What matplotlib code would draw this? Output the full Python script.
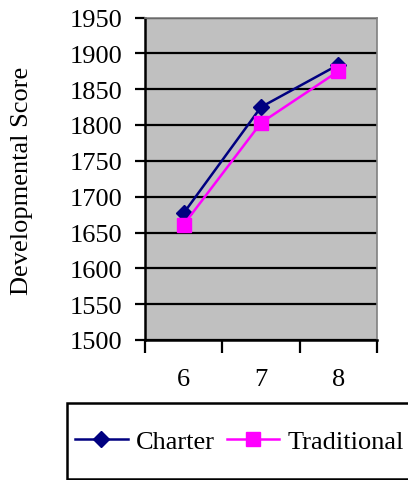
import matplotlib
matplotlib.use("Agg")
import matplotlib.pyplot as plt
from matplotlib.patches import Rectangle

# Developmental scores by grade
grades = ["6", "7", "8"]
charter = [1677, 1825, 1884]
traditional = [1661, 1803, 1875]
y_ticks = list(range(1500, 1951, 50))

plt.rcParams["font.family"] = ["Liberation Serif", "DejaVu Serif"]
FS = 19

fig = plt.figure(figsize=(4.08, 4.81), dpi=100)
ax = fig.add_axes([145 / 408, 1 - 341 / 481, 232 / 408, 322.5 / 481])
ax.set_facecolor("#C0C0C0")

x = list(range(len(grades)))
ax.plot(x, charter, color="#000080", marker="D", markersize=8.5, linewidth=1.8,
        label="Charter", zorder=3)
ax.plot(x, traditional, color="#FF00FF", marker="s", markersize=10, linewidth=1.8,
        label="Traditional", zorder=3)

ax.set_xlim(-0.5, len(grades) - 0.5)
ax.set_ylim(1500, 1950)
ax.set_yticks(y_ticks)
ax.set_yticklabels([str(v) for v in y_ticks], fontsize=FS)
ax.yaxis.grid(True, color="black", linewidth=1.6)
ax.set_axisbelow(True)

# Category labels centred between boundary ticks
ax.set_xticks(x)
ax.set_xticklabels(grades, fontsize=FS)
ax.tick_params(axis="x", which="major", length=0, pad=20)
ax.set_xticks([i - 0.5 for i in range(len(grades) + 1)], minor=True)
ax.tick_params(axis="x", which="minor", length=9, width=1.6, direction="out")
ax.tick_params(axis="y", length=7, width=1.6, direction="out", pad=9)

for side in ("left", "bottom"):
    ax.spines[side].set_color("black")
    ax.spines[side].set_linewidth(1.8)
for side in ("top", "right"):
    ax.spines[side].set_color("#808080")
    ax.spines[side].set_linewidth(1.2)

fig.text(22 / 408, 1 - 181 / 481, "Developmental Score", rotation=90,
         ha="center", va="center", fontsize=FS)

# Legend box (runs past the right edge of the figure)
fig.patches.append(Rectangle((67 / 408, 1 - 479.5 / 481), 360 / 408, 75.5 / 481,
                             transform=fig.transFigure, facecolor="white",
                             edgecolor="black", linewidth=1.8, clip_on=False))
handles, labels = ax.get_legend_handles_labels()
fig.legend(handles, labels, loc="center left", bbox_to_anchor=(75 / 408, 1 - 442 / 481),
           ncol=2, frameon=False, fontsize=FS, handlelength=2.0, handletextpad=0.3,
           columnspacing=0.45, borderaxespad=0, borderpad=0)

fig.savefig("out.png", dpi=100)
